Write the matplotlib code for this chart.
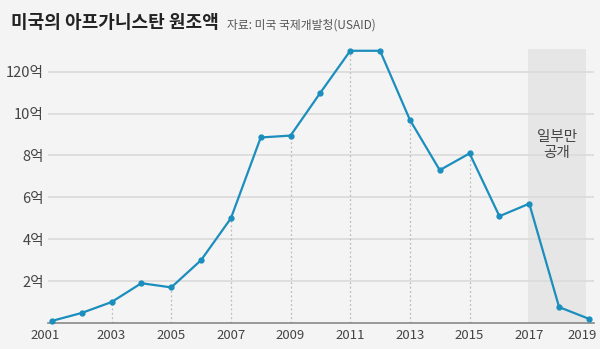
#!/usr/bin/env python
'''
    US aid to Afghanistan (USAID), 2001-2019, in units of 1억 dollars.
'''
import matplotlib
matplotlib.use('Agg')
import matplotlib.pyplot as plt
from matplotlib.transforms import ScaledTranslation

plt.rcParams['font.family'] = ['Noto Sans CJK KR', 'DejaVu Sans']

years = list(range(2001, 2020))
aid = [0.1, 0.48, 1.0, 1.9, 1.7, 3.0, 5.0, 8.86, 8.95, 11.0, 13.0, 13.0,
       9.7, 7.3, 8.1, 5.1, 5.7, 0.76, 0.2]
ytick_values = [2, 4, 6, 8, 10, 12]
ytick_labels = ['2억', '4억', '6억', '8억', '10억', '120억']
xtick_years = list(range(2001, 2020, 2))
dotted_years = list(range(2003, 2016, 2))
partial_start, partial_end = 2016.95, 2018.9

title = '미국의 아프가니스탄 원조액'
source = '자료: 미국 국제개발청(USAID)'
note = '일부만\n공개'

bg = '#f4f4f4'
line_colour = '#1b8ebd'
text_colour = '#444444'

fig = plt.figure(figsize=(6, 3.49), dpi=100, facecolor=bg)
ax = fig.add_axes([0.08, 0.0745, 0.91, 0.786], facecolor=bg)

ax.set_xlim(2000.87, 2019.17)
ax.set_ylim(0, 13.1)

# shaded region where only partial data are public
ax.axvspan(partial_start, partial_end, color='#e6e6e6', zorder=0, lw=0)

for v in ytick_values:
    ax.axhline(v, color='#dadada', lw=1.2, zorder=1)
ax.axhline(0, color='#888888', lw=1.2, zorder=2, clip_on=False)

for yr in dotted_years:
    ax.vlines(yr, 0, aid[years.index(yr)], colors='#bbbbbb', lw=0.9,
              linestyles=(0, (1.5, 2)), zorder=1)

ax.plot(years, aid, color=line_colour, lw=1.6, marker='o', markersize=3.5,
        zorder=3, clip_on=False)

ax.text(2017.93, 8.5, note, ha='center', va='center', fontsize=10.5,
        color=text_colour, linespacing=1.2)

for s in ax.spines.values():
    s.set_visible(False)
ax.set_yticks(ytick_values)
ax.set_yticklabels(ytick_labels)
ax.set_xticks(xtick_years)
ax.set_xticklabels([str(y) for y in xtick_years])
ax.tick_params(axis='y', length=0, pad=3, labelsize=10.5, labelcolor=text_colour)
ax.tick_params(axis='x', length=0, pad=4, labelsize=9.5, labelcolor=text_colour)

# first and last year labels are nudged left to stay inside the figure
shift = ScaledTranslation(-7 / 100, 0, fig.dpi_scale_trans)
xlabels = ax.get_xticklabels()
for lab in (xlabels[0], xlabels[-1]):
    lab.set_transform(lab.get_transform() + shift)

fig.text(0.018, 0.935, title, fontsize=13, fontweight='bold', color='#222222',
         va='center')
fig.text(0.378, 0.928, source, fontsize=8.5, color='#555555', va='center')

fig.savefig('out.png', dpi=100, facecolor=bg)
